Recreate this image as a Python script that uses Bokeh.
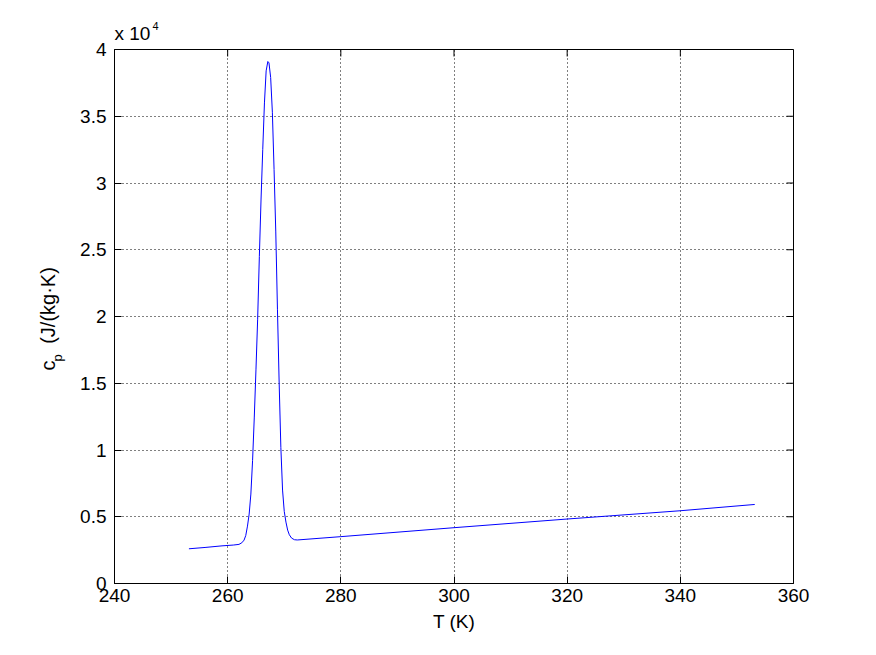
from bokeh.plotting import figure
from bokeh.models import ColumnDataSource, FixedTicker, Range1d, Title
from bokeh.embed import file_html
from bokeh.resources import INLINE

# ---- data ----
T_K = [253.15, 256.0, 259.0, 261.0, 262.0, 262.5, 262.9, 263.2, 263.5, 263.8,
       264.1, 264.4, 264.7, 265.0, 265.3, 265.6, 265.9, 266.2, 266.5, 266.8,
       267.1, 267.3, 267.6, 267.9, 268.2, 268.5, 268.8, 269.1, 269.4, 269.7,
       270.0, 270.3, 270.6, 270.9, 271.3, 271.8, 272.3, 280.0, 300.0, 320.0,
       340.0, 353.15]
cp_J = [2600, 2700, 2820, 2880, 2930, 3050, 3250, 3600, 4300, 5200,
        6700, 9200, 12400, 16000, 19800, 24500, 28800, 32500, 36000, 38400,
        39100, 39000, 37900, 35300, 31000, 26400, 20500, 15000, 10200, 7000,
        5400, 4600, 4000, 3650, 3400, 3280, 3260, 3510, 4180, 4830,
        5450, 5920]

x_ticks = [240, 260, 280, 300, 320, 340, 360]
y_ticks = [0, 5000, 10000, 15000, 20000, 25000, 30000, 35000, 40000]
y_tick_labels = ["0", "0.5", "1", "1.5", "2", "2.5", "3", "3.5", "4"]

FONT = "Liberation Sans"
FS = "19px"

p = figure(width=860, height=639, output_backend="svg", toolbar_location=None,
           x_range=Range1d(240, 360), y_range=Range1d(0, 40000),
           min_border_left=114, min_border_right=67,
           min_border_top=49, min_border_bottom=56)
p.background_fill_color = "white"
p.border_fill_color = "white"
p.outline_line_color = "black"

src = ColumnDataSource(dict(T=T_K, cp=cp_J))
p.line("T", "cp", source=src, line_color="#0000ff", line_width=1)

# inward ticks on the top and right edges of the box
dx = 7 * (360 - 240) / 679.0
dy = 7 * 40000 / 534.0
p.segment(x0=x_ticks, y0=[40000] * len(x_ticks), x1=x_ticks,
          y1=[40000 - dy] * len(x_ticks), line_color="black", line_width=1)
p.segment(x0=[360] * len(y_ticks), y0=y_ticks, x1=[360 - dx] * len(y_ticks),
          y1=y_ticks, line_color="black", line_width=1)

for g in (p.xgrid, p.ygrid):
    g.grid_line_color = "black"
    g.grid_line_dash = "1 3"
    g.grid_line_alpha = 1.0
p.xgrid.ticker = FixedTicker(ticks=x_ticks)
p.ygrid.ticker = FixedTicker(ticks=y_ticks)

for ax, ticks in ((p.xaxis[0], x_ticks), (p.yaxis[0], y_ticks)):
    ax.ticker = FixedTicker(ticks=ticks)
    ax.axis_line_color = "black"
    ax.major_tick_line_color = "black"
    ax.major_tick_in = 7
    ax.major_tick_out = 0
    ax.minor_tick_line_color = None
    ax.major_label_text_font = FONT
    ax.major_label_text_font_size = FS
    ax.major_label_text_color = "black"
p.xaxis[0].major_label_standoff = 5
p.yaxis[0].major_label_standoff = 8
p.yaxis[0].major_label_overrides = {t: s for t, s in zip(y_ticks, y_tick_labels)}
xa = p.xaxis[0]
xa.axis_label = "T (K)"
xa.axis_label_text_font = FONT
xa.axis_label_text_font_size = FS
xa.axis_label_text_font_style = "normal"
xa.axis_label_text_color = "black"
xa.axis_label_standoff = 6


def mk_title(text, size, offset, standoff, align="left"):
    t = Title(text=text, align=align, offset=offset, text_font=FONT,
              text_font_size=size, text_font_style="normal", text_color="black")
    try:
        t.standoff = standoff
    except Exception:
        t.standoff = 0
    return t

# y label: c_p (J/(kg·K)  -- subscript p as its own piece
NB = "\u00a0"
p.add_layout(mk_title("p", "13px", 222, 26), "left")
p.add_layout(mk_title("c" + NB * 3 + "(J/(kg·K)", "20px", 213, -48), "left")

# exponent marker: x 10^4
p.add_layout(mk_title("x 10", FS, 0, 12), "above")
p.title.text = "4"
p.title.align = "left"
p.title.offset = 38
p.title.text_font = FONT
p.title.text_font_size = "11px"
p.title.text_font_style = "normal"
p.title.text_color = "black"
try:
    p.title.standoff = -31
except Exception:
    p.title.standoff = 0

open("out.html", "w").write(file_html(p, INLINE))
